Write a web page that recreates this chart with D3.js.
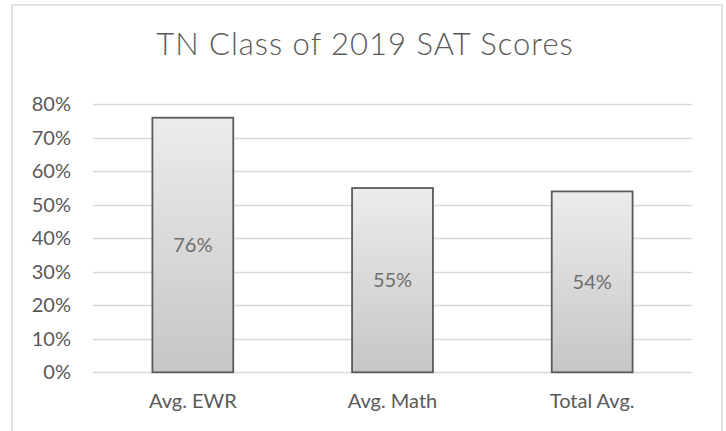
<!DOCTYPE html>
<html>
<head>
<meta charset="utf-8">
<script src="https://cdn.jsdelivr.net/npm/d3@7"></script>
<style>
  body { margin: 0; background: #fff; }
  svg { display: block; }
</style>
</head>
<body>
<script>
// chart data
var categories = ["Avg. EWR", "Avg. Math", "Total Avg."];
var scores = [0.76, 0.55, 0.54];
var yTicks = [0, 0.1, 0.2, 0.3, 0.4, 0.5, 0.6, 0.7, 0.8];
var chartTitle = "TN Class of 2019 SAT Scores";

var width = 726, height = 431;
var font = "Lato, 'Open Sans', sans-serif";
var textColor = "#595959";

var svg = d3.select("body").append("svg")
    .attr("width", width)
    .attr("height", height);

// gradient for the bars
var grad = svg.append("defs").append("linearGradient")
    .attr("id", "barGrad")
    .attr("x1", 0).attr("y1", 0).attr("x2", 0).attr("y2", 1);
grad.append("stop").attr("offset", "0%").attr("stop-color", "#ececec");
grad.append("stop").attr("offset", "100%").attr("stop-color", "#c6c6c6");

// outer chart border
svg.append("rect")
    .attr("x", 12).attr("y", 5)
    .attr("width", 710).attr("height", 440)
    .attr("fill", "#fff")
    .attr("stroke", "#d9d9d9")
    .attr("stroke-width", 1.5);

// title
svg.append("text")
    .attr("x", 365)
    .attr("y", 55)
    .attr("text-anchor", "middle")
    .style("font-family", font)
    .style("font-size", "31px")
    .style("font-weight", 300)
    .style("letter-spacing", "1px")
    .attr("fill", textColor)
    .text(chartTitle);

// scales
var x = d3.scaleBand()
    .domain(categories)
    .range([93, 692])
    .paddingInner(0.595)
    .paddingOuter(0.2975);

var y = d3.scaleLinear()
    .domain([0, 0.8])
    .range([372.3, 104.3]);

// gridlines
svg.append("g")
    .selectAll("line")
    .data(yTicks)
    .enter()
    .append("line")
        .attr("x1", 93)
        .attr("x2", 692)
        .attr("y1", (d) => Math.round(y(d)) + 0.5)
        .attr("y2", (d) => Math.round(y(d)) + 0.5)
        .attr("stroke", "#d9d9d9")
        .attr("stroke-width", 1.3);

// y axis labels
var yAxis = svg.append("g")
    .attr("transform", "translate(71,0)")
    .call(d3.axisLeft(y).tickValues(yTicks).tickFormat(d3.format(".0%")).tickSize(0).tickPadding(0));
yAxis.select(".domain").remove();
yAxis.selectAll("text")
    .attr("fill", textColor)
    .style("font-family", font)
    .style("font-size", "20px");

// x axis labels
var xAxis = svg.append("g")
    .attr("transform", "translate(0," + y(0) + ")")
    .call(d3.axisBottom(x).tickSize(0).tickPadding(22));
xAxis.select(".domain").remove();
xAxis.selectAll("text")
    .attr("fill", textColor)
    .style("font-family", font)
    .style("font-size", "20px");

// bars
var bars = svg.append("g")
    .selectAll("g")
    .data(scores)
    .enter()
    .append("g");

bars.append("rect")
    .attr("x", (d, i) => x(categories[i]))
    .attr("y", (d) => y(d))
    .attr("width", x.bandwidth())
    .attr("height", (d) => y(0) - y(d))
    .attr("fill", "url(#barGrad)")
    .attr("stroke", "#5a5a5a")
    .attr("stroke-width", 1.8);

// value labels centred in the bars
bars.append("text")
    .attr("x", (d, i) => x(categories[i]) + x.bandwidth() / 2)
    .attr("y", (d) => (y(d) + y(0)) / 2)
    .attr("dy", "0.35em")
    .attr("text-anchor", "middle")
    .attr("fill", "#6e6e6e")
    .style("font-family", font)
    .style("font-size", "20px")
    .text((d) => d3.format(".0%")(d));
</script>
</body>
</html>
